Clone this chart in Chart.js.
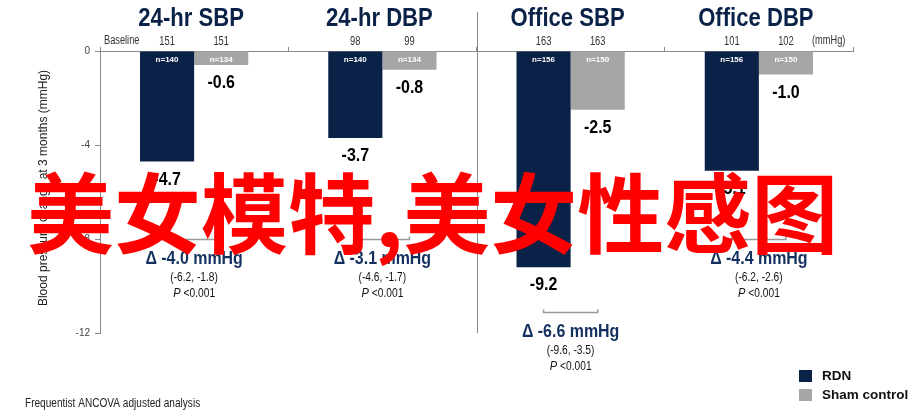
<!DOCTYPE html>
<html>
<head>
<meta charset="utf-8">
<script src="https://cdn.jsdelivr.net/npm/chart.js@4.4.1/dist/chart.umd.min.js"></script>
<style>
html,body{margin:0;padding:0;background:#fff;}
#wrap{width:915px;height:413px;position:relative;}
</style>
</head>
<body>
<div id="wrap"><canvas id="c" width="915" height="413"></canvas></div>
<script>
const categories = ['24-hr SBP', '24-hr DBP', 'Office SBP', 'Office DBP'];
const seriesNames = ['RDN', 'Sham control'];
const rdnValues = [-4.7, -3.7, -9.2, -5.1];
const shamValues = [-0.6, -0.8, -2.5, -1.0];
const rdnN = [140, 140, 156, 156];
const shamN = [134, 134, 150, 150];
const rdnBaseline = [151, 98, 163, 101];
const shamBaseline = [151, 99, 163, 102];
const deltaValues = [-4.0, -3.1, -6.6, -4.4];
const ciLow = [-6.2, -4.6, -9.6, -6.2];
const ciHigh = [-1.8, -1.7, -3.5, -2.6];
const pLabels = ['<0.001', '<0.001', '<0.001', '<0.001'];
const bracketLevels = [-8.0, -8.0, -11.1, -8.0];
const yMin = -12, yMax = 0, yStep = 4;
const yTitle = 'Blood pressure change at 3 months (mmHg)';
const footnote = 'Frequentist ANCOVA adjusted analysis';
const overlayText = '美女模特,美女性感图';

const NAVY = '#0a2247';
const DELTA = '#13305e';
const GRAY = '#a6a6a6';
const AXIS = '#8a8a8a';
const SANS = '"Liberation Sans", Arial, sans-serif';

function txt(ctx, s, x, y, font, color, align, sx) {
  ctx.save();
  ctx.font = font + ' ' + SANS;
  ctx.fillStyle = color;
  ctx.textAlign = align || 'center';
  ctx.textBaseline = 'middle';
  ctx.translate(x, y);
  ctx.scale(sx || 1, 1);
  ctx.fillText(s, 0, 0);
  ctx.restore();
}

const annot = {
  id: 'annot',
  afterDatasetsDraw(chart) {
    const ctx = chart.ctx;
    const ca = chart.chartArea;
    const ys = chart.scales.y;
    const xs = chart.scales.x;
    const m0 = chart.getDatasetMeta(0).data;
    const m1 = chart.getDatasetMeta(1).data;
    ctx.save();
    // separator between 24-hr and office
    const sepX = (xs.getPixelForValue(1) + xs.getPixelForValue(2)) / 2;
    ctx.strokeStyle = AXIS; ctx.lineWidth = 1;
    ctx.beginPath(); ctx.moveTo(Math.round(sepX) + 0.5, 12); ctx.lineTo(Math.round(sepX) + 0.5, ca.bottom); ctx.stroke();

    for (let i = 0; i < categories.length; i++) {
      const a = m0[i], b = m1[i];
      const cx = (a.x + b.x) / 2;
      txt(ctx, categories[i], cx - 3, 19, 'bold 26px', NAVY, 'center', 0.85);
      txt(ctx, String(rdnBaseline[i]), a.x, 41, '13px', '#333', 'center', 0.72);
      txt(ctx, String(shamBaseline[i]), b.x, 41, '13px', '#333', 'center', 0.72);
      txt(ctx, 'n=' + rdnN[i], a.x, ca.top + 9, 'bold 8px', '#fff', 'center', 1);
      txt(ctx, 'n=' + shamN[i], b.x, ca.top + 9, 'bold 8px', '#fff', 'center', 1);
      txt(ctx, rdnValues[i].toFixed(1), a.x, a.y + 18, 'bold 19px', '#000', 'center', 0.84);
      txt(ctx, shamValues[i].toFixed(1), b.x, b.y + 18, 'bold 19px', '#000', 'center', 0.84);
      // bracket
      const by = Math.round(ys.getPixelForValue(bracketLevels[i])) + 0.5;
      ctx.strokeStyle = '#999'; ctx.lineWidth = 1.5;
      ctx.beginPath();
      ctx.moveTo(a.x, by - 3); ctx.lineTo(a.x, by); ctx.lineTo(b.x, by); ctx.lineTo(b.x, by - 3);
      ctx.stroke();
      txt(ctx, 'Δ ' + deltaValues[i].toFixed(1) + ' mmHg', cx, by + 19, 'bold 19px', DELTA, 'center', 0.84);
      txt(ctx, '(' + ciLow[i].toFixed(1) + ', ' + ciHigh[i].toFixed(1) + ')', cx, by + 38, '12px', '#111', 'center', 0.85);
      // P value
      ctx.font = 'italic 13px ' + SANS;
      const pW = ctx.measureText('P ').width * 0.85;
      ctx.font = '12px ' + SANS;
      const rW = ctx.measureText(pLabels[i]).width * 0.85;
      const sx = cx - (pW + rW) / 2;
      txt(ctx, 'P ', sx, by + 54, 'italic 13px', '#111', 'left', 0.85);
      txt(ctx, pLabels[i], sx + pW, by + 54, '12px', '#111', 'left', 0.85);
    }
    txt(ctx, 'Baseline', 104, 41, '12px', '#333', 'left', 0.77);
    txt(ctx, '(mmHg)', 812, 41, '12px', '#333', 'left', 0.77);
    // y title
    ctx.save();
    ctx.translate(44, 188);
    ctx.rotate(-Math.PI / 2);
    txt(ctx, yTitle, 0, 0, '12px', '#222', 'center', 1);
    ctx.restore();
    // legend
    const legY = [376, 395];
    const legC = [NAVY, GRAY];
    for (let k = 0; k < 2; k++) {
      ctx.fillStyle = legC[k];
      ctx.fillRect(799, legY[k] - 6, 13, 12);
      txt(ctx, seriesNames[k], 822, legY[k], 'bold 13.5px', '#111', 'left', 1);
    }
    txt(ctx, footnote, 25, 404, '12px', '#222', 'left', 0.84);
    ctx.restore();
  },
  afterDraw(chart) {
    const ctx = chart.ctx;
    ctx.save();
    ctx.fillStyle = '#ff0000';
    ctx.font = 'bold 87px "Noto Sans CJK SC", sans-serif';
    ctx.textAlign = 'left';
    ctx.textBaseline = 'middle';
    ctx.fillText(overlayText, 27, 214);
    ctx.restore();
  }
};

new Chart(document.getElementById('c'), {
  type: 'bar',
  data: {
    labels: categories,
    datasets: [
      { label: seriesNames[0], data: rdnValues, backgroundColor: NAVY, borderWidth: 0 },
      { label: seriesNames[1], data: shamValues, backgroundColor: GRAY, borderWidth: 0 }
    ]
  },
  options: {
    responsive: false,
    animation: false,
    devicePixelRatio: 1,
    layout: { padding: { left: 0, right: 62, top: 41, bottom: 80 } },
    datasets: { bar: { categoryPercentage: 0.575, barPercentage: 1.0 } },
    plugins: { legend: { display: false }, tooltip: { enabled: false } },
    scales: {
      x: {
        position: 'top',
        offset: true,
        grid: { offset: true, drawOnChartArea: false, drawTicks: true, tickLength: 4, color: AXIS },
        border: { color: AXIS },
        ticks: { display: false },
        afterFit(s) { s.height = 10; }
      },
      y: {
        min: yMin, max: yMax,
        ticks: { stepSize: yStep, color: '#444', font: { size: 10, family: SANS }, padding: 5 },
        grid: { drawOnChartArea: false, tickLength: 5, color: AXIS },
        border: { color: AXIS },
        afterFit(s) { s.width = 100; }
      }
    }
  },
  plugins: [annot]
});
</script>
</body>
</html>
